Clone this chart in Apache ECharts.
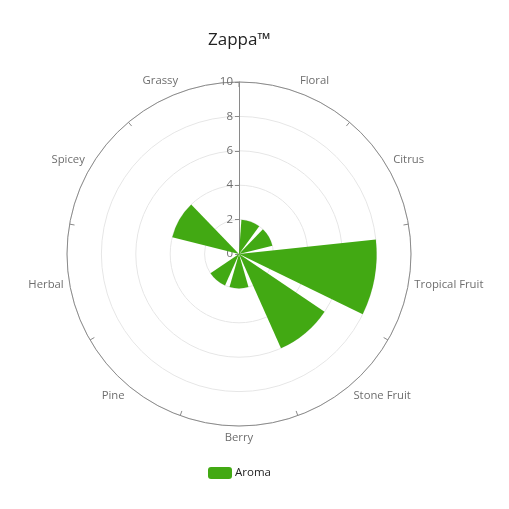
<!DOCTYPE html>
<html>
<head>
<meta charset="utf-8">
<script src="https://cdn.jsdelivr.net/npm/echarts@6/dist/echarts.min.js"></script>
<style>
  html, body { margin: 0; padding: 0; background: #fff; }
  #main { width: 509px; height: 509px; }
</style>
</head>
<body>
<div id="main"></div>
<script>
// 数据
var categories = ['Floral', 'Citrus', 'Tropical Fruit', 'Stone Fruit', 'Berry', 'Pine', 'Herbal', 'Spicey', 'Grassy'];
var aroma = [2, 2, 8, 6, 2, 2, 0, 4, 0];
var radiusTicks = { min: 0, max: 10, interval: 2 };

var font = '"Open Sans", "Noto Sans", sans-serif';
var myChart = echarts.init(document.getElementById('main'));
myChart.setOption({
  animation: false,
  title: {
    text: 'Zappa™',
    left: 203,
    top: 27,
    textStyle: { fontFamily: font, fontSize: 17, fontWeight: 'normal', color: '#222' }
  },
  legend: {
    data: ['Aroma'],
    left: 203,
    top: 462,
    itemWidth: 24,
    itemHeight: 12,
    itemGap: 6,
    icon: 'roundRect',
    textStyle: { fontFamily: font, fontSize: 11.5, color: '#222', padding: [0, 0, 0, -2] }
  },
  polar: { center: [239, 254], radius: 172 },
  angleAxis: {
    type: 'category',
    data: categories,
    startAngle: 90,
    clockwise: true,
    axisLine: { lineStyle: { color: '#8a8a8a', width: 1 } },
    axisTick: { inside: true, length: 5, lineStyle: { color: '#8a8a8a' } },
    axisLabel: { fontFamily: font, fontSize: 11.3, color: '#6e6e6e', margin: 6 },
    splitLine: { show: false }
  },
  radiusAxis: {
    min: radiusTicks.min,
    max: radiusTicks.max,
    interval: radiusTicks.interval,
    axisLine: { lineStyle: { color: '#8a8a8a' } },
    axisTick: { show: true, length: 4, lineStyle: { color: '#8a8a8a' } },
    axisLabel: { fontFamily: font, fontSize: 11.5, color: '#6e6e6e', margin: 6 },
    splitLine: { show: true, lineStyle: { color: '#e6e6e6' } }
  },
  series: [{
    name: 'Aroma',
    type: 'bar',
    coordinateSystem: 'polar',
    data: aroma,
    barCategoryGap: '20%',
    itemStyle: { color: '#42a913' }
  }]
});
window.onresize = function () {
  myChart.resize();
};
</script>
</body>
</html>
